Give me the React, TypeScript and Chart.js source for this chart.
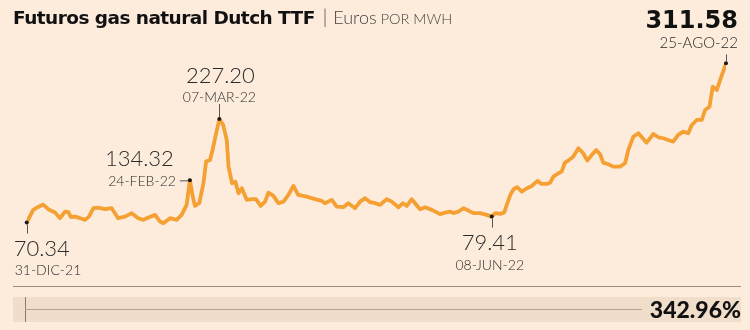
import React, { useEffect, useRef } from "react";
import { Chart, registerables } from "chart.js";
Chart.register(...registerables);

// position along the period (approx. days since 31-DIC-21)
const dayIndex = [
  0, 2.2, 3.7, 5.6, 7.3, 9.6, 11.3, 13.0, 14.1, 15.0, 16.4, 18.1, 19.8, 21.1, 22.6, 24.3, 26.5, 28.8, 31.0, 33.3,
  35.6, 37.8, 39.5, 40.7, 43.5, 45.2, 46.3, 48.6, 50.8, 52.5, 54.2, 55.3, 56.3, 57.0, 58.5, 59.9, 60.8, 62.1, 63.0,
  64.2, 65.3, 66.6, 67.8, 68.4, 69.6, 70.7, 71.8, 72.9, 74.6, 76.3, 77.7, 79.3, 80.8, 81.9, 83.6, 85.3, 87.0, 88.7,
  90.4, 92.0, 94.9, 97.7, 100.0, 101.1, 103.4, 105.1, 107.3, 109.0, 111.3, 113.0, 114.7, 116.4, 118.1, 119.8, 122.0,
  123.7, 126.0, 127.5, 128.8, 130.5, 131.6, 133.3, 135.0, 137.3, 140.1, 141.8, 143.5, 144.6, 146.3, 148.0, 149.7,
  151.4, 153.6, 155.9, 157.6, 158.8, 160.5, 161.8, 162.7, 163.9, 165.0, 166.2, 167.8, 169.5, 171.2, 173.1, 174.5,
  176.2, 177.4, 178.5, 180.2, 181.3, 182.4, 183.5, 185.2, 187.0, 188.6, 190.0, 191.5, 193.0, 194.3, 195.4, 197.1,
  198.8, 201.1, 202.8, 203.9, 205.6, 207.3, 210.1, 212.4, 214.1, 215.8, 217.4, 219.1, 220.8, 222.5, 224.2, 225.4,
  227.1, 228.8, 229.9, 231.4, 232.5, 233.9, 235.0, 237,
];

// Dutch TTF futures, euros per MWh
const prices = [
  70.34, 89.6, 93.6, 97.6, 90.6, 85.5, 77.0, 87.0, 86.1, 78.5, 79.4, 77.0, 74.4, 79.4, 92.1, 93.0, 90.6, 92.1, 77.0, 79.4,
  84.6, 77.0, 74.4, 77.0, 82.0, 71.9, 69.4, 77.0, 74.4, 82.0, 97.1, 134.32, 109.7, 95.6, 99.7, 130.0, 162.7, 165.2, 180.4,
  205.6, 227.2, 218.0, 195.5, 155.1, 130.0, 132.4, 114.8, 122.4, 104.7, 105.8, 105.8, 95.6, 102.1, 115.7, 110.7, 99.7, 102.1, 112.3,
  125.9, 112.3, 109.7, 105.8, 103.2, 99.7, 104.7, 94.6, 93.6, 99.7, 92.1, 102.1, 107.3, 101.2, 99.7, 97.1, 105.8,
  102.1, 93.6, 99.7, 95.6, 105.8, 99.7, 90.6, 93.6, 89.6, 83.1, 85.5, 87.0, 84.6, 87.0, 92.1, 88.5,
  84.6, 84.6, 82.0, 79.41, 84.6, 83.5, 85.5, 97.1, 112.3, 120.9, 123.9, 117.3, 122.4, 125.9, 133.5, 128.9,
  128.9, 130.9, 140.0, 145.1, 147.5, 161.2, 164.2, 170.2, 182.9, 175.4, 164.2, 172.8, 180.4, 174.3, 161.2, 158.7,
  155.1, 155.1, 160.2, 180.4, 200.5, 205.6, 191.4, 204.6, 199.6, 198.1, 195.5, 192.9, 203.1, 208.1, 205.6, 218.2,
  225.8, 225.8, 240.9, 245.9, 276.2, 271.2, 286.3, 311.58,
];

// labelled points: index in the series, value text, date text, placement
const labelIndex = [0, 31, 40, 94, 146];
const labelValues = ["70.34", "134.32", "227.20", "79.41", "311.58"];
const labelDates = ["31-DIC-21", "24-FEB-22", "07-MAR-22", "08-JUN-22", "25-AGO-22"];
const labelPlacement = ["belowLeft", "left", "above", "below", "aboveRight"];

const TITLE = "Futuros gas natural Dutch TTF";
const UNIT_A = "Euros";
const UNIT_B = "POR MWH";
const CHANGE = "342.96%";

const BG = "#FDEBDC";
const LINE = "#F5A033";
const TEXT = "#2b2b2b";
const LIGHT_FONT = "Lato, 'Open Sans', sans-serif";
const BOLD_FONT = "'DejaVu Sans', sans-serif";

const labelsPlugin = {
  id: "pointLabels",
  afterDatasetsDraw(chart: any) {
    const ctx = chart.ctx;
    const xs = chart.scales.x;
    const ys = chart.scales.y;
    ctx.save();
    labelIndex.forEach((idx, k) => {
      const px = xs.getPixelForValue(dayIndex[idx]);
      const py = ys.getPixelForValue(prices[idx]);
      const place = labelPlacement[k];
      ctx.strokeStyle = "#555";
      ctx.lineWidth = 1;
      ctx.beginPath();
      if (place === "left") {
        ctx.moveTo(px - 10, py + 0.5);
        ctx.lineTo(px - 2, py + 0.5);
      } else if (place === "above" || place === "aboveRight") {
        ctx.moveTo(Math.round(px) + 0.5, py - (place === "above" ? 15 : 9));
        ctx.lineTo(Math.round(px) + 0.5, py - 2);
      } else {
        ctx.moveTo(Math.round(px) + 0.5, py + 2);
        ctx.lineTo(Math.round(px) + 0.5, py + 11);
      }
      ctx.stroke();
      ctx.fillStyle = "#1a1a1a";
      ctx.beginPath();
      ctx.arc(px, py, 2, 0, Math.PI * 2);
      ctx.fill();

      ctx.fillStyle = TEXT;
      ctx.textBaseline = "alphabetic";
      const valFont = `300 22px ${LIGHT_FONT}`;
      const dateFont = `300 14px ${LIGHT_FONT}`;
      if (place === "belowLeft") {
        ctx.textAlign = "left";
        ctx.font = valFont;
        ctx.fillText(labelValues[k], px - 13, py + 33);
        ctx.font = dateFont;
        ctx.fillText(labelDates[k], px - 12, py + 52);
      } else if (place === "left") {
        ctx.textAlign = "right";
        ctx.font = valFont;
        ctx.fillText(labelValues[k], px - 16, py - 14);
        ctx.font = dateFont;
        ctx.fillText(labelDates[k], px - 14, py + 6);
      } else if (place === "above") {
        ctx.textAlign = "center";
        ctx.font = valFont;
        ctx.fillText(labelValues[k], px + 1, py - 36);
        ctx.font = dateFont;
        ctx.fillText(labelDates[k], px, py - 17);
      } else if (place === "below") {
        ctx.textAlign = "center";
        ctx.font = valFont;
        ctx.fillText(labelValues[k], px - 2, py + 33);
        ctx.font = dateFont;
        ctx.fillText(labelDates[k], px - 2, py + 53);
      } else {
        ctx.textAlign = "right";
        ctx.font = `bold 24px ${BOLD_FONT}`;
        ctx.fillStyle = "#111";
        ctx.fillText(labelValues[k], px + 12, py - 35);
        ctx.font = `300 15px ${LIGHT_FONT}`;
        ctx.fillStyle = TEXT;
        ctx.fillText(labelDates[k], px + 12, py - 15);
      }
    });
    ctx.restore();
  },
};

export default function App() {
  const ref = useRef<HTMLCanvasElement | null>(null);
  useEffect(() => {
    if (!ref.current) return;
    const chart = new Chart(ref.current, {
      type: "line",
      data: {
        datasets: [
          {
            data: dayIndex.map((d, i) => ({ x: d, y: prices[i] })),
            borderColor: LINE,
            borderWidth: 3.8,
            pointRadius: 0,
            tension: 0,
            borderJoinStyle: "round",
            borderCapStyle: "round",
          },
        ],
      },
      options: {
        animation: false,
        responsive: false,
        layout: { padding: { left: 26.7, right: 24, top: 5, bottom: 61 } },
        scales: {
          x: { type: "linear", min: 0, max: 237, display: false },
          y: { min: 0, max: 400, display: false },
        },
        plugins: { legend: { display: false }, tooltip: { enabled: false } },
      },
      plugins: [labelsPlugin],
    } as any);
    return () => chart.destroy();
  }, []);

  return (
    <div style={{ position: "fixed", left: 0, top: 0, width: 750, height: 330, background: BG, overflow: "hidden" }}>
      <canvas ref={ref} width={750} height={330} style={{ position: "absolute", left: 0, top: 0 }} />
      <div
        style={{
          position: "absolute",
          left: 13,
          top: 5,
          whiteSpace: "nowrap",
          color: "#111",
          lineHeight: "24px",
        }}
      >
        <span style={{ fontFamily: BOLD_FONT, fontWeight: 700, fontSize: 18.5, letterSpacing: -0.55 }}>{TITLE}</span>
        <span style={{ fontFamily: LIGHT_FONT, fontWeight: 300, fontSize: 19, color: "#444", marginLeft: 8 }}>|</span>
        <span style={{ fontFamily: LIGHT_FONT, fontWeight: 300, fontSize: 18, color: "#444", marginLeft: 6 }}>{UNIT_A}</span>
        <span style={{ fontFamily: LIGHT_FONT, fontWeight: 300, fontSize: 14.5, color: "#444", marginLeft: 4 }}>{UNIT_B}</span>
      </div>
      <div style={{ position: "absolute", left: 13, top: 286, width: 728, height: 1, background: "#9c8c7c" }} />
      <div style={{ position: "absolute", left: 13, top: 297, width: 728, height: 25, background: "#F0DECB" }}>
        <div style={{ position: "absolute", left: 12, top: 0, width: 1, height: 25, background: "#8a7a6a" }} />
        <div style={{ position: "absolute", left: 12, top: 12, width: 617, height: 1, background: "#b3a392" }} />
        <div
          style={{
            position: "absolute",
            right: 0,
            top: 0,
            lineHeight: "25px",
            fontFamily: LIGHT_FONT,
            fontWeight: 900,
            fontSize: 23,
            color: "#111",
          }}
        >
          {CHANGE}
        </div>
      </div>
    </div>
  );
}
